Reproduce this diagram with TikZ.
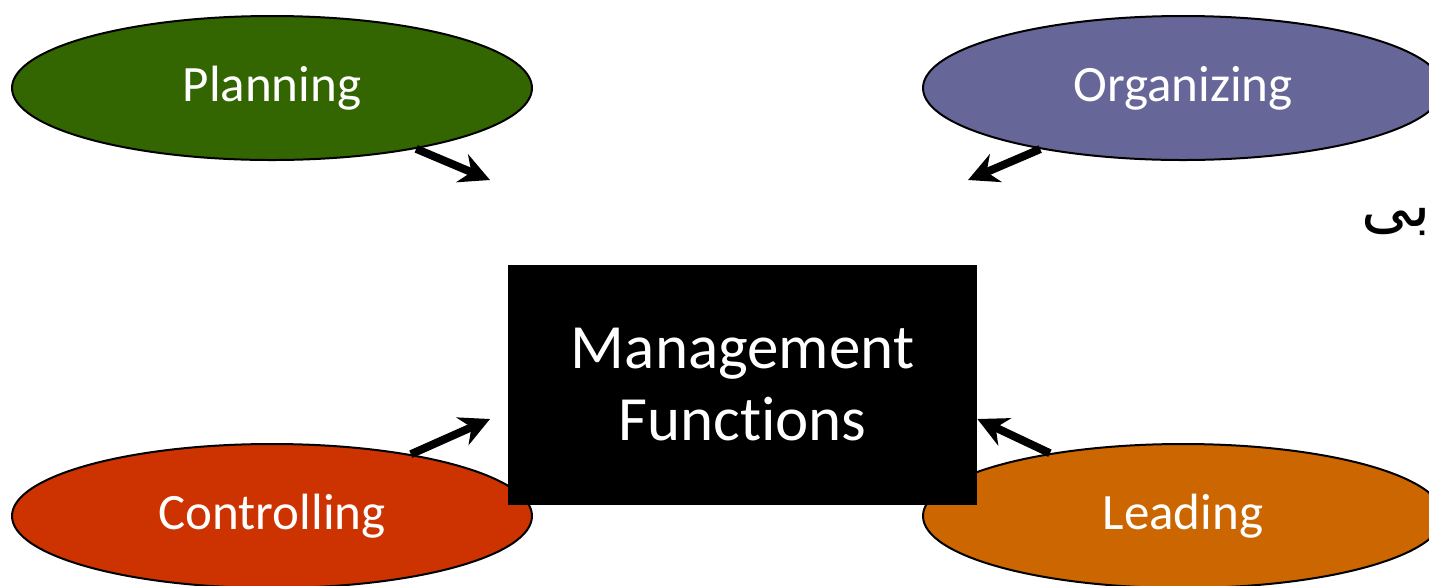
\documentclass[tikz,border=0pt]{standalone}
\usepackage{fontspec}
\setmainfont{Carlito}[Ligatures=NoCommon]
\newfontfamily\arabicfont[Script=Arabic]{DejaVu Sans}
\TeXXeTstate=1
\usetikzlibrary{shapes.geometric,arrows.meta}

\definecolor{planfill}{HTML}{336600}
\definecolor{orgfill}{HTML}{666699}
\definecolor{ctrlfill}{HTML}{CC3300}
\definecolor{leadfill}{HTML}{CC6600}

\newcommand\funcfont{\fontsize{25.5}{30}\selectfont}
\newcommand\centerfont{\fontsize{31.5}{36}\selectfont}
\newcommand\arabfont{\arabicfont\fontsize{31}{36}\selectfont}

\tikzset{
  func/.style={ellipse, draw=black, line width=1pt, minimum width=260pt,
    minimum height=72pt, text=white, font=\funcfont},
  arr/.style={-{Stealth[length=15pt, width=15pt]}, line width=4pt},
}

\begin{document}
\begin{tikzpicture}[x=0.5pt, y=-0.5pt]
    \useasboundingbox (0,0) rectangle (1429,585);
    \node[func, fill=planfill] (plan) at (272,88) {Planning};
    \node[func, fill=orgfill] (org) at (1183,88) {Organizing};
    \node[func, fill=ctrlfill] (ctrl) at (272,516) {Controlling};
    \node[func, fill=leadfill] (lead) at (1183,516) {Leading};
    \node[fill=black, text=white, minimum width=234.5pt, minimum height=120pt,
      align=center, font=\centerfont] (mgmt) at (742.5,385) {Management\\Functions};
    \node[font=\arabfont] (arab) at (1396,222) {\beginR بی\endR};
    \coordinate (plantip) at (490,180);
    \coordinate (orgtip) at (968,180);
    \coordinate (ctrltip) at (490,419);
    \coordinate (leadtip) at (mgmt.east |- 0,419);
    \draw[arr] (plan) -- (plantip);
    \draw[arr] (org) -- (orgtip);
    \draw[arr] (ctrl) -- (ctrltip);
    \draw[arr] (lead) -- (leadtip);
\end{tikzpicture}
\end{document}
